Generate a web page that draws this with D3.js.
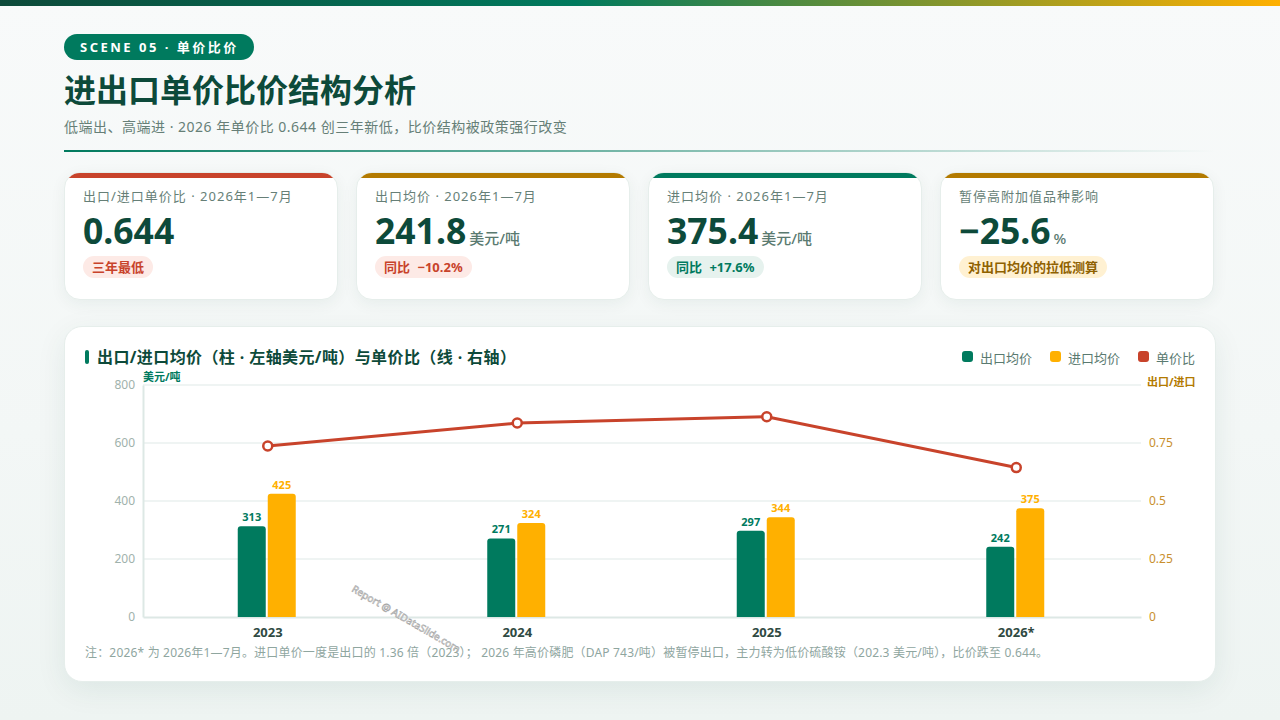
<!DOCTYPE html>
<html>
<head>
<meta charset="utf-8">
<script src="https://cdn.jsdelivr.net/npm/d3@7"></script>
<style>
  * { box-sizing: border-box; }
  html, body { margin: 0; padding: 0; }
  body {
    width: 1280px; height: 720px; overflow: hidden; position: relative;
    font-family: "Noto Sans", "Noto Sans CJK SC", sans-serif;
    background: linear-gradient(180deg, #f8fafa 0%, #f3f7f6 60%, #eef4f2 100%);
  }
  .topbar { position: absolute; left: 0; top: 0; width: 1280px; height: 6px;
    background: linear-gradient(90deg, #0d4a3a 0%, #007a5e 45%, #ffb000 100%); }
  .pill { position: absolute; left: 64px; top: 34px; width: 190px; height: 26px; border-radius: 13px;
    background: #007a5e; color: #fff; font-size: 13px; font-weight: 700; letter-spacing: 2.5px;
    line-height: 26px; padding-left: 16px; white-space: nowrap; }
  h1 { position: absolute; left: 64px; top: 68px; margin: 0; font-size: 32px; line-height: 44px;
    font-weight: 700; color: #0d4a3a; white-space: nowrap; }
  .sub { position: absolute; left: 64px; top: 116px; font-size: 14px; letter-spacing: 0.5px; line-height: 22px; color: #667f77; white-space: nowrap; }
  .rule { position: absolute; left: 64px; top: 150px; width: 1152px; height: 2px;
    background: linear-gradient(90deg, #007a5e 0%, rgba(0,122,94,0) 100%); }
  .card { position: absolute; top: 172px; width: 274px; height: 128px; background: #fff; border-radius: 16px;
    border: 1px solid #e6eeeb; box-shadow: 0 4px 16px rgba(13,74,58,0.06); overflow: hidden; }
  .card .bar { position: absolute; left: -1px; right: -1px; top: 0; height: 5px; }
  .card .lab { position: absolute; left: 18px; top: 13px; font-size: 13px; letter-spacing: 1px; line-height: 20px; color: #667f77; white-space: nowrap; }
  .card .val { position: absolute; left: 18px; top: 33px; font-size: 35.5px; line-height: 48px; font-weight: 700; color: #0d4a3a; white-space: nowrap; }
  .card .val span { font-size: 15px; font-weight: 500; color: #5a7a70; margin-left: 3px; }
  .card .tag { position: absolute; left: 18px; top: 83px; height: 22px; line-height: 22px; padding: 0 9px; border-radius: 11px;
    font-size: 13px; word-spacing: 4px; font-weight: 700; white-space: nowrap; }
  .panel { position: absolute; left: 64px; top: 326px; width: 1152px; height: 356px; background: #fff; border-radius: 18px;
    border: 1px solid #e6eeeb; box-shadow: 0 8px 30px rgba(13,74,58,0.08); }
  svg { position: absolute; left: 0; top: 0; }
</style>
</head>
<body>
<div class="topbar"></div>
<div class="pill">SCENE 05 · 单价比价</div>
<h1>进出口单价比价结构分析</h1>
<div class="sub">低端出、高端进 · 2026 年单价比 0.644 创三年新低，比价结构被政策强行改变</div>
<div class="rule"></div>
<div id="cards"></div>
<div class="panel"></div>
<svg id="chart" width="1280" height="720"></svg>
<script>
// KPI cards
const cardLabels = ["出口/进口单价比 · 2026年1—7月", "出口均价 · 2026年1—7月", "进口均价 · 2026年1—7月", "暂停高附加值品种影响"];
const cardValues = ["0.644", "241.8", "375.4", "−25.6"];
const cardUnits = ["", "美元/吨", "美元/吨", "%"];
const cardTags = ["三年最低", "同比 −10.2%", "同比 +17.6%", "对出口均价的拉低测算"];
const cardBarColors = ["#c8432b", "#b37a00", "#007a5e", "#b37a00"];
const cardTagBg = ["#fdeae6", "#fdeae6", "#e6f2ee", "#fff1d2"];
const cardTagFg = ["#c8432b", "#c8432b", "#007a5e", "#8f6100"];

// chart data
const years = ["2023", "2024", "2025", "2026*"];
const exportPrice = [313, 271, 297, 242];
const importPrice = [425, 324, 344, 375];
const priceRatio = [0.737, 0.836, 0.863, 0.644];
const leftTicks = [0, 200, 400, 600, 800];
const rightTicks = [0, 0.25, 0.5, 0.75];
const legendNames = ["出口均价", "进口均价", "单价比"];

const green = "#007a5e", amber = "#ffb000", red = "#c8432b", axisAmber = "#c98f2e";
const fontStack = '"Noto Sans", "Noto Sans CJK SC", sans-serif';

const cards = d3.select("#cards").selectAll("div.card")
  .data(cardLabels)
  .enter()
  .append("div")
  .attr("class", "card")
  .style("left", (d, i) => (64 + i * 292) + "px");
cards.append("div").attr("class", "bar").style("background", (d, i) => cardBarColors[i]);
cards.append("div").attr("class", "lab").text(d => d);
const vals = cards.append("div").attr("class", "val").text((d, i) => cardValues[i]);
vals.append("span").text((d, i) => cardUnits[i]);
cards.append("div").attr("class", "tag")
  .style("background", (d, i) => cardTagBg[i])
  .style("color", (d, i) => cardTagFg[i])
  .text((d, i) => cardTags[i]);

// chart
const svg = d3.select("#chart");
const margin = { top: 385, right: 139, bottom: 103, left: 143 };
const innerW = 1280 - margin.left - margin.right;
const innerH = 720 - margin.top - margin.bottom;

const x = d3.scaleBand().domain(years).range([0, innerW]);
const yLeft = d3.scaleLinear().domain([0, 800]).range([innerH, 0]);
const yRight = d3.scaleLinear().domain([0, 1]).range([innerH, 0]);
const barW = 28, barGap = 2;

const g = svg.append("g").attr("transform", `translate(${margin.left},${margin.top})`);

// gridlines
g.append("g").selectAll("line")
  .data(leftTicks.filter(d => d > 0))
  .enter().append("line")
  .attr("x1", 0).attr("x2", innerW)
  .attr("y1", d => yLeft(d)).attr("y2", d => yLeft(d))
  .attr("stroke", "#eff4f3").attr("stroke-width", 2);

// axes
const axisLeft = g.append("g").call(d3.axisLeft(yLeft).tickValues(leftTicks).tickSize(0).tickPadding(8))
  .attr("font-family", fontStack);
axisLeft.select(".domain").attr("stroke", "#dde8e5").attr("stroke-width", 2);
axisLeft.selectAll("text").attr("fill", "#9fb2ac").attr("font-size", 12);

const axisRight = g.append("g").attr("transform", `translate(${innerW},0)`)
  .call(d3.axisRight(yRight).tickValues(rightTicks).tickFormat(d => String(d)).tickSize(0).tickPadding(8))
  .attr("font-family", fontStack);
axisRight.select(".domain").remove();
axisRight.selectAll("text").attr("fill", axisAmber).attr("font-size", 12);

const axisBottom = g.append("g").attr("transform", `translate(0,${innerH})`)
  .call(d3.axisBottom(x).tickSize(0).tickPadding(11))
  .attr("font-family", fontStack);
axisBottom.select(".domain").attr("stroke", "#dde8e5").attr("stroke-width", 2);
axisBottom.selectAll("text").attr("fill", "#2f4a42").attr("font-size", 13).attr("font-weight", 700);

// bars
const groups = g.selectAll("g.year")
  .data(years)
  .enter().append("g").attr("class", "year")
  .attr("transform", d => `translate(${x(d) + x.bandwidth() / 2},0)`);

function barPath(w, h) {
  const r = 3;
  return `M0,${h}V${r}Q0,0 ${r},0H${w - r}Q${w},0 ${w},${r}V${h}Z`;
}
groups.append("path")
  .attr("transform", (d, i) => `translate(${-barW - barGap},${yLeft(exportPrice[i])})`)
  .attr("d", (d, i) => barPath(barW, innerH - yLeft(exportPrice[i])))
  .attr("fill", green);
groups.append("path")
  .attr("transform", (d, i) => `translate(0,${yLeft(importPrice[i])})`)
  .attr("d", (d, i) => barPath(barW, innerH - yLeft(importPrice[i])))
  .attr("fill", amber);
groups.append("text")
  .attr("x", -barW / 2 - barGap)
  .attr("y", (d, i) => yLeft(exportPrice[i]) - 5)
  .attr("text-anchor", "middle").attr("font-size", 11).attr("font-weight", 700).attr("fill", green)
  .text((d, i) => exportPrice[i]);
groups.append("text")
  .attr("x", barW / 2)
  .attr("y", (d, i) => yLeft(importPrice[i]) - 5)
  .attr("text-anchor", "middle").attr("font-size", 11).attr("font-weight", 700).attr("fill", amber)
  .text((d, i) => importPrice[i]);

// ratio line
const line = d3.line()
  .x((d, i) => x(years[i]) + x.bandwidth() / 2)
  .y(d => yRight(d));
g.append("path").datum(priceRatio)
  .attr("d", line).attr("fill", "none").attr("stroke", red).attr("stroke-width", 3);
g.selectAll("circle.pt")
  .data(priceRatio)
  .enter().append("circle").attr("class", "pt")
  .attr("cx", (d, i) => x(years[i]) + x.bandwidth() / 2)
  .attr("cy", d => yRight(d))
  .attr("r", 4.5).attr("fill", "#fff").attr("stroke", red).attr("stroke-width", 2.5);

// axis titles
svg.append("text").attr("x", 143).attr("y", 381).attr("font-size", 11).attr("font-weight", 700).attr("fill", green).text("美元/吨");
svg.append("text").attr("x", 1147).attr("y", 386).attr("font-size", 11).attr("font-weight", 700).attr("fill", "#b37a00").text("出口/进口");

// panel title
svg.append("rect").attr("x", 85).attr("y", 350).attr("width", 4).attr("height", 14).attr("rx", 2).attr("fill", green);
svg.append("text").attr("x", 97).attr("y", 363).attr("font-size", 16).attr("letter-spacing", 0.4).attr("font-weight", 700).attr("fill", "#0d4a3a")
  .text("出口/进口均价（柱 · 左轴美元/吨）与单价比（线 · 右轴）");

// legend
const legendX = [962, 1050, 1138];
const legendColors = [green, amber, red];
const legend = svg.append("g").selectAll("g")
  .data(legendNames)
  .enter().append("g")
  .attr("transform", (d, i) => `translate(${legendX[i]},351)`);
legend.append("rect").attr("width", 11).attr("height", 11).attr("rx", 3).attr("fill", (d, i) => legendColors[i]);
legend.append("text").attr("x", 18).attr("y", 12).attr("font-size", 13).attr("fill", "#5a7a70").text(d => d);

// footnote
svg.append("text").attr("x", 85).attr("y", 657).attr("font-size", 12).attr("letter-spacing", 0.18).attr("fill", "#8fa69f")
  .text("注：2026* 为 2026年1—7月。进口单价一度是出口的 1.36 倍（2023）； 2026 年高价磷肥（DAP 743/吨）被暂停出口，主力转为低价硫酸铵（202.3 美元/吨），比价跌至 0.644。");

// watermark
svg.append("text")
  .attr("transform", "translate(351,591) rotate(30)")
  .attr("font-size", 10).attr("fill", "#fff").attr("stroke", "#a8a8a8").attr("stroke-width", 0.6)
  .text("Report @ AIDataSlide.com");
</script>
</body>
</html>
